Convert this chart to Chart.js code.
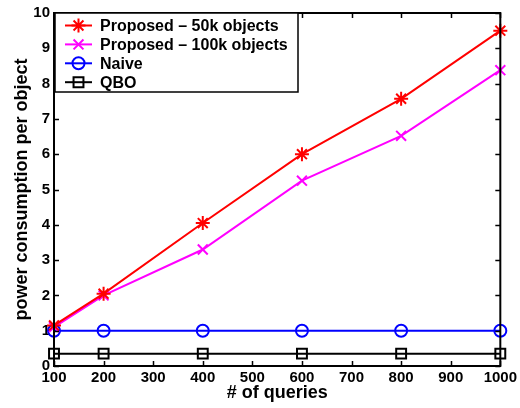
<!DOCTYPE html>
<html>
<head>
<meta charset="utf-8">
<script src="https://cdn.jsdelivr.net/npm/chart.js@4/dist/chart.umd.min.js"></script>
<style>
  html, body { margin: 0; padding: 0; background: #fff; }
  #wrap { width: 520px; height: 408px; }
</style>
</head>
<body>
<div id="wrap"><canvas id="powerChart" width="520" height="408"></canvas></div>
<script>
// ========== DATA ==========
const queries = [100, 200, 400, 600, 800, 1000];
const proposed50k = [1.15, 2.05, 4.05, 6.0, 7.57, 9.5];
const proposed100k = [1.1, 2.0, 3.3, 5.25, 6.52, 8.38];
const naive = [1, 1, 1, 1, 1, 1];
const qbo = [0.35, 0.35, 0.35, 0.35, 0.35, 0.35];

const FONT = "'Liberation Sans', Arial, Helvetica, sans-serif";

const toPoints = (ys) => queries.map((q, i) => ({ x: q, y: ys[i] }));

const series = [
  { label: "Proposed \u2013 50k objects", data: proposed50k, color: "#ff0000", style: "star", r: 7 },
  { label: "Proposed \u2013 100k objects", data: proposed100k, color: "#ff00ff", style: "crossRot", r: 7 },
  { label: "Naive", data: naive, color: "#0000ff", style: "circle", r: 6 },
  { label: "QBO", data: qbo, color: "#000000", style: "rect", r: 7 },
];

// inward tick marks on all four sides plus the frame
const frameTicks = {
  id: "frameTicks",
  afterDatasetsDraw(chart) {
    const { ctx, chartArea: a, scales } = chart;
    const len = 5;
    ctx.save();
    ctx.strokeStyle = "#000";
    ctx.lineWidth = 1.5;
    scales.x.ticks.forEach((t) => {
      const px = Math.round(scales.x.getPixelForValue(t.value)) + 0.5;
      ctx.beginPath();
      ctx.moveTo(px, a.bottom); ctx.lineTo(px, a.bottom - len);
      ctx.moveTo(px, a.top); ctx.lineTo(px, a.top + len);
      ctx.stroke();
    });
    scales.y.ticks.forEach((t) => {
      const py = Math.round(scales.y.getPixelForValue(t.value)) + 0.5;
      ctx.beginPath();
      ctx.moveTo(a.left, py); ctx.lineTo(a.left + len, py);
      ctx.moveTo(a.right, py); ctx.lineTo(a.right - len, py);
      ctx.stroke();
    });
    ctx.lineWidth = 2;
    ctx.strokeRect(a.left, a.top, a.right - a.left, a.bottom - a.top);
    ctx.restore();
  },
};

// boxed legend in the top-left corner, line sample with open marker
const boxLegend = {
  id: "boxLegend",
  afterDraw(chart) {
    const { ctx, chartArea: a } = chart;
    const x0 = a.left + 1, y0 = a.top, w = 243, h = 79;
    ctx.save();
    ctx.fillStyle = "#fff";
    ctx.fillRect(x0, y0, w, h);
    ctx.strokeStyle = "#000";
    ctx.lineWidth = 1.5;
    ctx.strokeRect(x0, y0, w, h);
    ctx.font = "bold 16px " + FONT;
    ctx.textBaseline = "middle";
    series.forEach((s, i) => {
      const cy = y0 + 12.5 + i * 18.9;
      ctx.strokeStyle = s.color;
      ctx.lineWidth = 2;
      ctx.beginPath();
      ctx.moveTo(x0 + 10, cy);
      ctx.lineTo(x0 + 37, cy);
      ctx.stroke();
      ctx.fillStyle = "rgba(0,0,0,0)";
      Chart.helpers.drawPoint(ctx, {
        pointStyle: s.style, radius: s.r, rotation: 0, borderWidth: 2,
      }, x0 + 23.5, cy);
      ctx.fillStyle = "#000";
      ctx.fillText(s.label, x0 + 45, cy + 1);
    });
    ctx.restore();
  },
};

const datasets = series.map((s) => ({
  label: s.label,
  data: toPoints(s.data),
  borderColor: s.color,
  backgroundColor: "rgba(0,0,0,0)",
  borderWidth: 2,
  pointStyle: s.style,
  pointRadius: s.r,
  pointBorderWidth: 2,
  pointBorderColor: s.color,
  pointBackgroundColor: "rgba(0,0,0,0)",
  tension: 0,
  clip: false,
}));

new Chart(document.getElementById("powerChart"), {
  type: "line",
  data: { datasets },
  plugins: [frameTicks, boxLegend],
  options: {
    responsive: false,
    animation: false,
    layout: { padding: { top: 12, right: 17, left: 11, bottom: 4 } },
    plugins: { legend: { display: false }, tooltip: { enabled: false } },
    scales: {
      x: {
        type: "linear",
        min: 100,
        max: 1000,
        afterFit: (s) => { s.height = 38; },
        ticks: {
          stepSize: 100,
          padding: 3,
          color: "#000",
          maxRotation: 0,
          callback: (v) => String(v),
          font: { family: FONT, size: 15, weight: "bold" },
        },
        grid: { display: false, drawTicks: false },
        border: { display: false },
        title: {
          display: true,
          text: "# of queries",
          color: "#000",
          padding: { top: 0, bottom: 0 },
          font: { family: FONT, size: 18, weight: "bold" },
        },
      },
      y: {
        min: 0,
        max: 10,
        afterFit: (s) => { s.width = 43; },
        ticks: {
          stepSize: 1,
          padding: 4,
          color: "#000",
          font: { family: FONT, size: 15, weight: "bold" },
        },
        grid: { display: false, drawTicks: false },
        border: { display: false },
        title: {
          display: true,
          text: "power consumption per object",
          color: "#000",
          padding: { top: 0, bottom: 0 },
          font: { family: FONT, size: 18, weight: "bold" },
        },
      },
    },
  },
});
</script>
</body>
</html>
